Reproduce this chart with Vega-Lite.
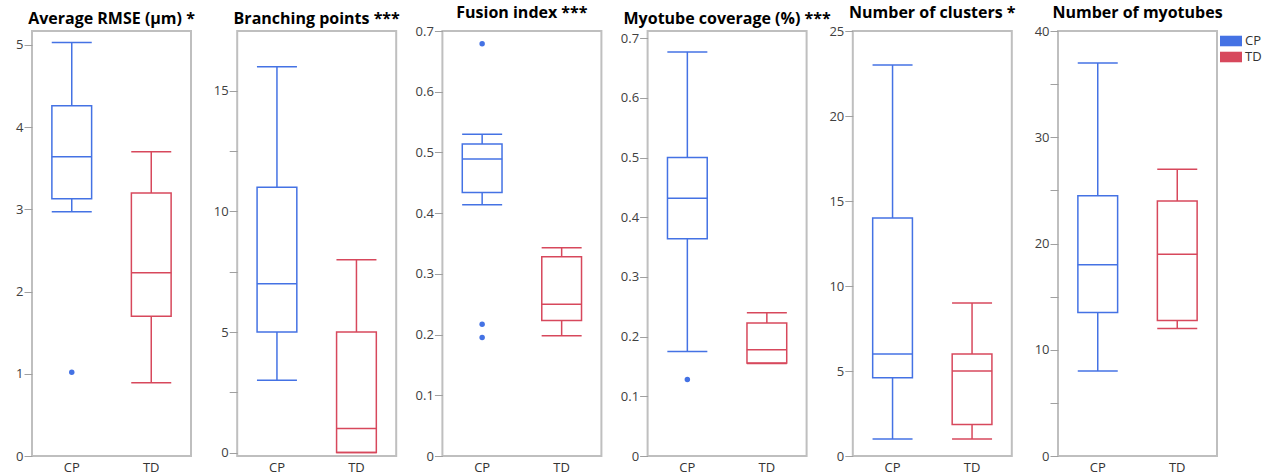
{
  "$schema": "https://vega.github.io/schema/vega-lite/v6.json",
  "padding": {"left": 14, "top": 4, "right": 50, "bottom": 0},
  "bounds": "flush",
  "spacing": 46.2,
  "resolve": {"scale": {"color": "independent"}, "legend": {"color": "independent"}},
  "datasets": {
    "boxes": [
      {"metric": "rmse", "group": "CP", "lower": 2.97, "q1": 3.13, "median": 3.64, "q3": 4.26, "upper": 5.03},
      {"metric": "rmse", "group": "TD", "lower": 0.89, "q1": 1.70, "median": 2.23, "q3": 3.20, "upper": 3.70},
      {"metric": "branch", "group": "CP", "lower": 3, "q1": 5, "median": 7, "q3": 11, "upper": 16},
      {"metric": "branch", "group": "TD", "lower": 0, "q1": 0, "median": 1, "q3": 5, "upper": 8},
      {"metric": "fusion", "group": "CP", "lower": 0.414, "q1": 0.434, "median": 0.489, "q3": 0.514, "upper": 0.530},
      {"metric": "fusion", "group": "TD", "lower": 0.198, "q1": 0.223, "median": 0.250, "q3": 0.328, "upper": 0.343},
      {"metric": "coverage", "group": "CP", "lower": 0.175, "q1": 0.364, "median": 0.432, "q3": 0.500, "upper": 0.677},
      {"metric": "coverage", "group": "TD", "lower": 0.155, "q1": 0.156, "median": 0.178, "q3": 0.223, "upper": 0.240},
      {"metric": "clusters", "group": "CP", "lower": 1, "q1": 4.6, "median": 6, "q3": 14, "upper": 23},
      {"metric": "clusters", "group": "TD", "lower": 1, "q1": 1.85, "median": 5, "q3": 6, "upper": 9},
      {"metric": "myotubes", "group": "CP", "lower": 8, "q1": 13.5, "median": 18, "q3": 24.5, "upper": 37},
      {"metric": "myotubes", "group": "TD", "lower": 12, "q1": 12.75, "median": 19, "q3": 24, "upper": 27}
    ],
    "outliers": [
      {"metric": "rmse", "group": "CP", "value": 1.02},
      {"metric": "fusion", "group": "CP", "value": 0.679},
      {"metric": "fusion", "group": "CP", "value": 0.217},
      {"metric": "fusion", "group": "CP", "value": 0.195},
      {"metric": "coverage", "group": "CP", "value": 0.128}
    ]
  },
  "hconcat": [
    {
      "title": "Average RMSE (μm) *",
      "width": 159, "height": 425,
      "encoding": {"x": {"field": "group", "type": "nominal", "title": null, "scale": {"domain": ["CP", "TD"], "paddingInner": 0.5, "paddingOuter": 0.25}}},
      "layer": [
        {"data": {"name": "boxes"}, "transform": [{"filter": "datum.metric === 'rmse'"}],
         "layer": [
          {"mark": {"type": "rule", "strokeWidth": 1.5}, "encoding": {"y": {"field": "lower", "type": "quantitative", "title": null, "scale": {"domain": [0, 5.17], "nice": false, "zero": false}, "axis": {"values": [0, 1, 2, 3, 4, 5], "format": "d"}}, "y2": {"field": "q1"}, "stroke": {"field": "group", "type": "nominal", "scale": {"domain": ["CP", "TD"], "range": ["#4472e4", "#d7485c"]}, "legend": null}}},
          {"mark": {"type": "rule", "strokeWidth": 1.5}, "encoding": {"y": {"field": "q3", "type": "quantitative", "title": null}, "y2": {"field": "upper"}, "stroke": {"field": "group", "type": "nominal", "legend": null}}},
          {"mark": {"type": "bar", "filled": false, "strokeWidth": 1.5}, "encoding": {"y": {"field": "q1", "type": "quantitative", "title": null}, "y2": {"field": "q3"}, "stroke": {"field": "group", "type": "nominal", "legend": null}}},
          {"transform": [{"fold": ["lower", "median", "upper"], "as": ["stat", "v"]}], "mark": {"type": "tick", "size": 40, "thickness": 1.5, "opacity": 1}, "encoding": {"y": {"field": "v", "type": "quantitative", "title": null}, "fill": {"field": "group", "type": "nominal", "scale": {"domain": ["CP", "TD"], "range": ["#4472e4", "#d7485c"]}, "legend": null}}}
         ]},
        {"data": {"name": "outliers"}, "transform": [{"filter": "datum.metric === 'rmse'"}], "mark": {"type": "point", "filled": true, "shape": "circle", "size": 30, "opacity": 1}, "encoding": {"y": {"field": "value", "type": "quantitative", "title": null}, "fill": {"field": "group", "type": "nominal", "legend": null}}}
      ]
    },
    {
      "title": "Branching points ***",
      "width": 159, "height": 425,
      "encoding": {"x": {"field": "group", "type": "nominal", "title": null, "scale": {"domain": ["CP", "TD"], "paddingInner": 0.5, "paddingOuter": 0.25}}},
      "layer": [
        {"data": {"name": "boxes"}, "transform": [{"filter": "datum.metric === 'branch'"}],
         "layer": [
          {"mark": {"type": "rule", "strokeWidth": 1.5}, "encoding": {"y": {"field": "lower", "type": "quantitative", "title": null, "scale": {"domain": [-0.14, 17.48], "nice": false, "zero": false}, "axis": {"values": [0, 2.5, 5, 7.5, 10, 12.5, 15], "labelExpr": "datum.value % 5 === 0 ? format(datum.value, 'd') : ''"}}, "y2": {"field": "q1"}, "stroke": {"field": "group", "type": "nominal", "scale": {"domain": ["CP", "TD"], "range": ["#4472e4", "#d7485c"]}, "legend": null}}},
          {"mark": {"type": "rule", "strokeWidth": 1.5}, "encoding": {"y": {"field": "q3", "type": "quantitative", "title": null}, "y2": {"field": "upper"}, "stroke": {"field": "group", "type": "nominal", "legend": null}}},
          {"mark": {"type": "bar", "filled": false, "strokeWidth": 1.5}, "encoding": {"y": {"field": "q1", "type": "quantitative", "title": null}, "y2": {"field": "q3"}, "stroke": {"field": "group", "type": "nominal", "legend": null}}},
          {"transform": [{"fold": ["lower", "median", "upper"], "as": ["stat", "v"]}], "mark": {"type": "tick", "size": 40, "thickness": 1.5, "opacity": 1}, "encoding": {"y": {"field": "v", "type": "quantitative", "title": null}, "fill": {"field": "group", "type": "nominal", "scale": {"domain": ["CP", "TD"], "range": ["#4472e4", "#d7485c"]}, "legend": null}}}
         ]}
      ]
    },
    {
      "title": "Fusion index ***",
      "width": 159, "height": 425,
      "encoding": {"x": {"field": "group", "type": "nominal", "title": null, "scale": {"domain": ["CP", "TD"], "paddingInner": 0.5, "paddingOuter": 0.25}}},
      "layer": [
        {"data": {"name": "boxes"}, "transform": [{"filter": "datum.metric === 'fusion'"}],
         "layer": [
          {"mark": {"type": "rule", "strokeWidth": 1.5}, "encoding": {"y": {"field": "lower", "type": "quantitative", "title": null, "scale": {"domain": [0, 0.7], "nice": false, "zero": false}, "axis": {"values": [0, 0.1, 0.2, 0.3, 0.4, 0.5, 0.6, 0.7], "format": ".1~f"}}, "y2": {"field": "q1"}, "stroke": {"field": "group", "type": "nominal", "scale": {"domain": ["CP", "TD"], "range": ["#4472e4", "#d7485c"]}, "legend": null}}},
          {"mark": {"type": "rule", "strokeWidth": 1.5}, "encoding": {"y": {"field": "q3", "type": "quantitative", "title": null}, "y2": {"field": "upper"}, "stroke": {"field": "group", "type": "nominal", "legend": null}}},
          {"mark": {"type": "bar", "filled": false, "strokeWidth": 1.5}, "encoding": {"y": {"field": "q1", "type": "quantitative", "title": null}, "y2": {"field": "q3"}, "stroke": {"field": "group", "type": "nominal", "legend": null}}},
          {"transform": [{"fold": ["lower", "median", "upper"], "as": ["stat", "v"]}], "mark": {"type": "tick", "size": 40, "thickness": 1.5, "opacity": 1}, "encoding": {"y": {"field": "v", "type": "quantitative", "title": null}, "fill": {"field": "group", "type": "nominal", "scale": {"domain": ["CP", "TD"], "range": ["#4472e4", "#d7485c"]}, "legend": null}}}
         ]},
        {"data": {"name": "outliers"}, "transform": [{"filter": "datum.metric === 'fusion'"}], "mark": {"type": "point", "filled": true, "shape": "circle", "size": 30, "opacity": 1}, "encoding": {"y": {"field": "value", "type": "quantitative", "title": null}, "fill": {"field": "group", "type": "nominal", "legend": null}}}
      ]
    },
    {
      "title": "Myotube coverage (%) ***",
      "width": 159, "height": 425,
      "encoding": {"x": {"field": "group", "type": "nominal", "title": null, "scale": {"domain": ["CP", "TD"], "paddingInner": 0.5, "paddingOuter": 0.25}}},
      "layer": [
        {"data": {"name": "boxes"}, "transform": [{"filter": "datum.metric === 'coverage'"}],
         "layer": [
          {"mark": {"type": "rule", "strokeWidth": 1.5}, "encoding": {"y": {"field": "lower", "type": "quantitative", "title": null, "scale": {"domain": [0, 0.712], "nice": false, "zero": false}, "axis": {"values": [0, 0.1, 0.2, 0.3, 0.4, 0.5, 0.6, 0.7], "format": ".1~f"}}, "y2": {"field": "q1"}, "stroke": {"field": "group", "type": "nominal", "scale": {"domain": ["CP", "TD"], "range": ["#4472e4", "#d7485c"]}, "legend": null}}},
          {"mark": {"type": "rule", "strokeWidth": 1.5}, "encoding": {"y": {"field": "q3", "type": "quantitative", "title": null}, "y2": {"field": "upper"}, "stroke": {"field": "group", "type": "nominal", "legend": null}}},
          {"mark": {"type": "bar", "filled": false, "strokeWidth": 1.5}, "encoding": {"y": {"field": "q1", "type": "quantitative", "title": null}, "y2": {"field": "q3"}, "stroke": {"field": "group", "type": "nominal", "legend": null}}},
          {"transform": [{"fold": ["lower", "median", "upper"], "as": ["stat", "v"]}], "mark": {"type": "tick", "size": 40, "thickness": 1.5, "opacity": 1}, "encoding": {"y": {"field": "v", "type": "quantitative", "title": null}, "fill": {"field": "group", "type": "nominal", "scale": {"domain": ["CP", "TD"], "range": ["#4472e4", "#d7485c"]}, "legend": null}}}
         ]},
        {"data": {"name": "outliers"}, "transform": [{"filter": "datum.metric === 'coverage'"}], "mark": {"type": "point", "filled": true, "shape": "circle", "size": 30, "opacity": 1}, "encoding": {"y": {"field": "value", "type": "quantitative", "title": null}, "fill": {"field": "group", "type": "nominal", "legend": null}}}
      ]
    },
    {
      "title": "Number of clusters *",
      "width": 159, "height": 425,
      "encoding": {"x": {"field": "group", "type": "nominal", "title": null, "scale": {"domain": ["CP", "TD"], "paddingInner": 0.5, "paddingOuter": 0.25}}},
      "layer": [
        {"data": {"name": "boxes"}, "transform": [{"filter": "datum.metric === 'clusters'"}],
         "layer": [
          {"mark": {"type": "rule", "strokeWidth": 1.5}, "encoding": {"y": {"field": "lower", "type": "quantitative", "title": null, "scale": {"domain": [0, 25], "nice": false, "zero": false}, "axis": {"values": [0, 5, 10, 15, 20, 25], "format": "d"}}, "y2": {"field": "q1"}, "stroke": {"field": "group", "type": "nominal", "scale": {"domain": ["CP", "TD"], "range": ["#4472e4", "#d7485c"]}, "legend": null}}},
          {"mark": {"type": "rule", "strokeWidth": 1.5}, "encoding": {"y": {"field": "q3", "type": "quantitative", "title": null}, "y2": {"field": "upper"}, "stroke": {"field": "group", "type": "nominal", "legend": null}}},
          {"mark": {"type": "bar", "filled": false, "strokeWidth": 1.5}, "encoding": {"y": {"field": "q1", "type": "quantitative", "title": null}, "y2": {"field": "q3"}, "stroke": {"field": "group", "type": "nominal", "legend": null}}},
          {"transform": [{"fold": ["lower", "median", "upper"], "as": ["stat", "v"]}], "mark": {"type": "tick", "size": 40, "thickness": 1.5, "opacity": 1}, "encoding": {"y": {"field": "v", "type": "quantitative", "title": null}, "fill": {"field": "group", "type": "nominal", "scale": {"domain": ["CP", "TD"], "range": ["#4472e4", "#d7485c"]}, "legend": null}}}
         ]}
      ]
    },
    {
      "title": "Number of myotubes",
      "width": 159, "height": 425,
      "encoding": {"x": {"field": "group", "type": "nominal", "title": null, "scale": {"domain": ["CP", "TD"], "paddingInner": 0.5, "paddingOuter": 0.25}}},
      "layer": [
        {"data": {"name": "boxes"}, "transform": [{"filter": "datum.metric === 'myotubes'"}],
         "layer": [
          {"mark": {"type": "rule", "strokeWidth": 1.5}, "encoding": {"y": {"field": "lower", "type": "quantitative", "title": null, "scale": {"domain": [0, 40], "nice": false, "zero": false}, "axis": {"values": [0, 5, 10, 15, 20, 25, 30, 35, 40], "labelExpr": "datum.value % 10 === 0 ? format(datum.value, 'd') : ''"}}, "y2": {"field": "q1"}, "stroke": {"field": "group", "type": "nominal", "scale": {"domain": ["CP", "TD"], "range": ["#4472e4", "#d7485c"]}, "legend": null}}},
          {"mark": {"type": "rule", "strokeWidth": 1.5}, "encoding": {"y": {"field": "q3", "type": "quantitative", "title": null}, "y2": {"field": "upper"}, "stroke": {"field": "group", "type": "nominal", "legend": null}}},
          {"mark": {"type": "bar", "filled": false, "strokeWidth": 1.5}, "encoding": {"y": {"field": "q1", "type": "quantitative", "title": null}, "y2": {"field": "q3"}, "stroke": {"field": "group", "type": "nominal", "legend": null}}},
          {"transform": [{"fold": ["lower", "median", "upper"], "as": ["stat", "v"]}], "mark": {"type": "tick", "size": 40, "thickness": 1.5, "opacity": 1}, "encoding": {"y": {"field": "v", "type": "quantitative", "title": null}, "color": {"field": "group", "type": "nominal", "scale": {"domain": ["CP", "TD"], "range": ["#4472e4", "#d7485c"]}, "legend": {"title": null, "orient": "right", "offset": 4, "padding": 2, "symbolType": "M-1.375,-0.66H1.375V0.66H-1.375Z", "symbolSize": 256, "symbolStrokeWidth": 0, "symbolOpacity": 1, "labelFontSize": 13, "labelColor": "#333333", "labelOffset": 6, "rowPadding": 1}}}}
         ]}
      ]
    }
  ],
  "config": {
    "font": "Open Sans",
    "view": {"stroke": "#bfbfbf", "strokeWidth": 2},
    "title": {"fontSize": 16, "fontWeight": "bold", "color": "#000000", "offset": 4, "anchor": "middle"},
    "axis": {"grid": false, "domain": false, "labelFontSize": 13, "labelColor": "#404040", "tickColor": "#a0a0a0", "tickSize": 8, "labelPadding": 1, "labelOverlap": false},
    "axisX": {"ticks": false, "labelPadding": 5, "labelFontSize": 13, "labelAngle": 0, "labelColor": "#333333"}
  }
}
